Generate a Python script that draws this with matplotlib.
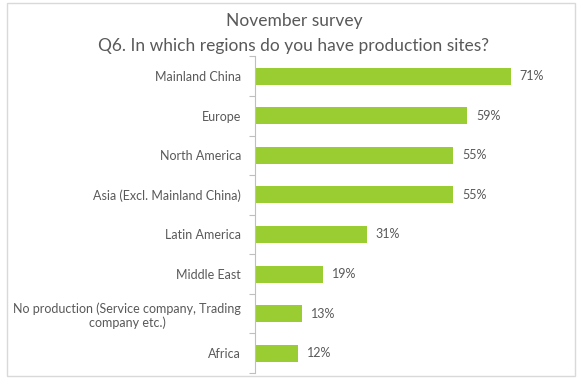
import matplotlib.pyplot as plt
from matplotlib.patches import Rectangle

categories = ['Mainland China', 'Europe', 'North America', 'Asia (Excl. Mainland China)',
              'Latin America', 'Middle East',
              'No production (Service company, Trading\ncompany etc.)', 'Africa']
values = [71, 59, 55, 55, 31, 19, 13, 12]

bar_color = '#9ACD32'
text_color = '#595959'
plt.rcParams['font.family'] = ['Lato', 'DejaVu Sans']

fig = plt.figure(figsize=(5.88, 3.88), dpi=100)
fig.patches.append(Rectangle((7/588, 1-376/388), 568/588, 373/388, transform=fig.transFigure,
                             fill=False, edgecolor='#d9d9d9', linewidth=1))

ax = fig.add_axes([255/588, 1-373/388, 288/588, 316.6/388])
y = list(range(len(categories)))
ax.barh(y, values, height=0.43, color=bar_color)
ax.set_ylim(len(categories)-0.5, -0.5)
ax.set_xlim(0, 80)

for yi, v in zip(y, values):
    ax.text(v + 2.5, yi, f'{v}%', va='center', ha='left', fontsize=9, color=text_color)

ax.set_yticks(y)
ax.set_yticklabels(categories, fontsize=9, color=text_color, ha='right')
for lbl in ax.get_yticklabels():
    lbl.set_multialignment('center')
ax.tick_params(axis='y', length=0, pad=10)
ax.set_yticks([i - 0.5 for i in range(len(categories)+1)], minor=True)
ax.tick_params(axis='y', which='minor', length=4, color='#bfbfbf', width=0.8)
ax.set_xticks([])
for s in ['top', 'right', 'bottom']:
    ax.spines[s].set_visible(False)
ax.spines['left'].set_color('#bfbfbf')
ax.spines['left'].set_linewidth(0.8)

fig.text(0.5, 1-21/388, 'November survey', ha='center', va='center', fontsize=12.5, color=text_color)
fig.text(0.5, 1-46/388, 'Q6. In which regions do you have production sites?', ha='center',
         va='center', fontsize=12.5, color=text_color)

fig.savefig('out.png', dpi=100)
